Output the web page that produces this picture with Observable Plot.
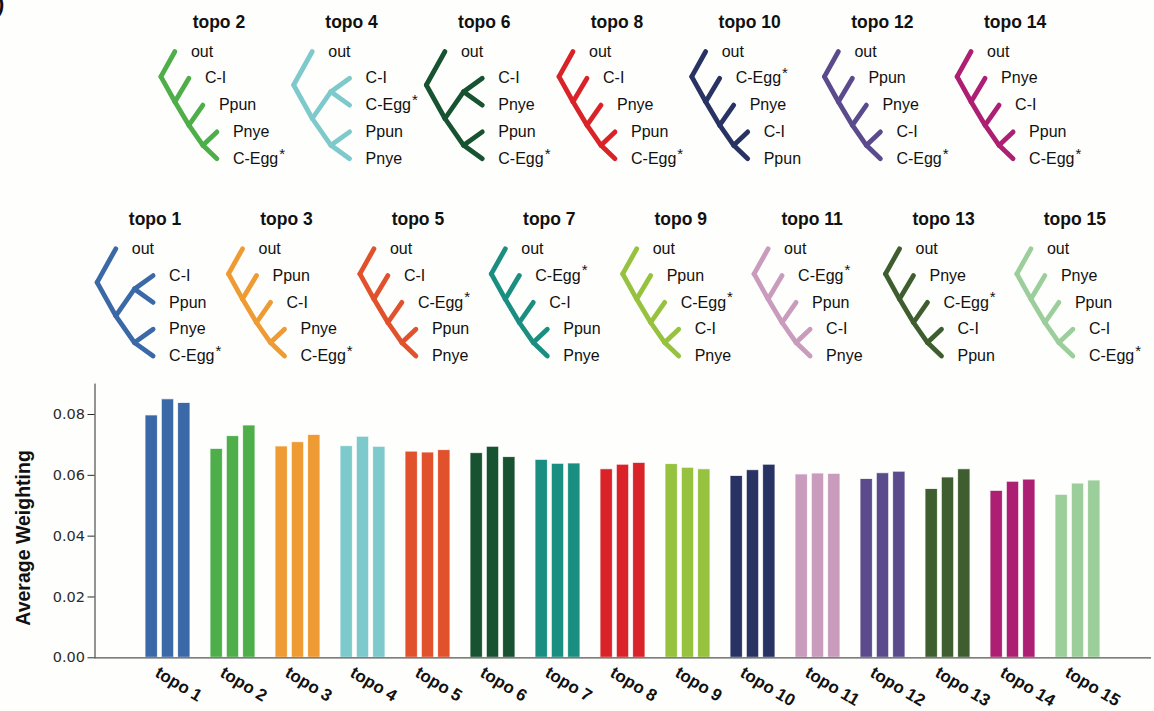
<!DOCTYPE html>
<html>
<head>
<meta charset="utf-8">
<script src="https://cdn.jsdelivr.net/npm/d3@7"></script>
<script src="https://cdn.jsdelivr.net/npm/@observablehq/plot@0.6"></script>
<style>
  body { margin: 0; background: #fefefc; }
  #fig { position: relative; width: 1154px; height: 711px; overflow: hidden; background: #fefefc; }
  #fig svg { position: absolute; left: 0; display: block; overflow: visible; }
  #tag { position: absolute; left: -3px; top: -9px; font: bold 22px "Liberation Sans", Arial, sans-serif; color: #111; }
</style>
</head>
<body>
<div id="fig"><span id="tag">)</span></div>
<script>
// ---- data -------------------------------------------------------------
const topos = d3.range(1, 16).map(i => `topo ${i}`);

// tree topologies, tips listed top to bottom
const topologies = [
  "(out,((C-I,Ppun),(Pnye,C-Egg*)))",
  "(out,(C-I,(Ppun,(Pnye,C-Egg*))))",
  "(out,(Ppun,(C-I,(Pnye,C-Egg*))))",
  "(out,((C-I,C-Egg*),(Ppun,Pnye)))",
  "(out,(C-I,(C-Egg*,(Ppun,Pnye))))",
  "(out,((C-I,Pnye),(Ppun,C-Egg*)))",
  "(out,(C-Egg*,(C-I,(Ppun,Pnye))))",
  "(out,(C-I,(Pnye,(Ppun,C-Egg*))))",
  "(out,(Ppun,(C-Egg*,(C-I,Pnye))))",
  "(out,(C-Egg*,(Pnye,(C-I,Ppun))))",
  "(out,(C-Egg*,(Ppun,(C-I,Pnye))))",
  "(out,(Ppun,(Pnye,(C-I,C-Egg*))))",
  "(out,(Pnye,(C-Egg*,(C-I,Ppun))))",
  "(out,(Pnye,(C-I,(Ppun,C-Egg*))))",
  "(out,(Pnye,(Ppun,(C-I,C-Egg*))))"
];

// average weighting of each topology in three runs
const weightRun1 = [0.0797, 0.0687, 0.0695, 0.0696, 0.0678, 0.0673, 0.0651, 0.0620, 0.0637, 0.0598, 0.0603, 0.0588, 0.0555, 0.0549, 0.0536];
const weightRun2 = [0.0850, 0.0729, 0.0709, 0.0727, 0.0675, 0.0694, 0.0638, 0.0635, 0.0625, 0.0617, 0.0606, 0.0607, 0.0593, 0.0579, 0.0573];
const weightRun3 = [0.0838, 0.0764, 0.0733, 0.0694, 0.0683, 0.0660, 0.0639, 0.0641, 0.0620, 0.0635, 0.0605, 0.0612, 0.0620, 0.0586, 0.0583];

const yTicks = [0, 0.02, 0.04, 0.06, 0.08];

// ---- styles -----------------------------------------------------------
const palette = [
  "#3b68a6", "#4dae4a", "#ee9b33", "#7ec9cb", "#e0512c",
  "#175231", "#1a8e80", "#d92329", "#96c23f", "#283364",
  "#c99bbc", "#5b4b8c", "#3f5e2f", "#ad1f73", "#9cce9b"
];
const sans = "Liberation Sans, Arial, Helvetica, sans-serif";
const fig = document.getElementById("fig");

// ---- tree helpers -----------------------------------------------------
function parseNewick(s) {
  let i = 0;
  function node() {
    if (s[i] === "(") {
      i++;
      const children = [node()];
      while (s[i] === ",") { i++; children.push(node()); }
      i++;
      return {children};
    }
    let name = "";
    while (i < s.length && !",()".includes(s[i])) name += s[i++];
    return {name};
  }
  return node();
}

// depth drives x, tip order drives y; an internal node sits at the mean of its children
function layout(root) {
  let rank = 0, maxDepth = 0;
  (function walk(n, d) {
    n.depth = d;
    maxDepth = Math.max(maxDepth, d);
    if (n.children) {
      n.children.forEach(c => walk(c, d + 1));
      n.rank = d3.mean(n.children, c => c.rank);
    } else n.rank = rank++;
  })(root, 0);
  return maxDepth;
}

const measure = document.createElement("canvas").getContext("2d");
function textWidth(t, font) { measure.font = font; return measure.measureText(t).width; }

const tipFont = 16, titleFont = 17.5, tipGap = 16, treeSpan = 56, tipStep = 26.8;
const starDx = tipGap + textWidth("C-Egg", `${tipFont}px Liberation Sans`) + 1;

function treeRow(ids, cfg) {
  const unit = treeSpan / cfg.step;
  const edges = [], tips = [], heads = [];
  ids.forEach((k, j) => {
    const topo = topos[k - 1];
    const root = parseNewick(topologies[k - 1]);
    const maxDepth = layout(root);
    const X = n => j + unit * n.depth / maxDepth;
    (function walk(n) {
      if (n.children) n.children.forEach(c => {
        edges.push({topo, x1: X(n), y1: n.rank, x2: X(c), y2: c.rank});
        walk(c);
      });
      else tips.push({topo, x: X(n), y: n.rank, label: n.name.replace("*", ""), star: n.name.endsWith("*")});
    })(root);
    heads.push({topo, x: j, y: 0});
  });
  const n = ids.length;
  const svg = Plot.plot({
    width: 1154, height: cfg.height, margin: 0,
    style: {background: "transparent", overflow: "visible", fontFamily: sans},
    x: {domain: [0, n - 1], range: [cfg.root0, cfg.root0 + (n - 1) * cfg.step], axis: null},
    y: {domain: [0, 4], range: [cfg.outY, cfg.outY + 4 * tipStep], axis: null},
    color: {domain: topos, range: palette},
    marks: [
      Plot.link(edges, {x1: "x1", y1: "y1", x2: "x2", y2: "y2", stroke: "topo",
        strokeWidth: 4.8, strokeLinecap: "round", strokeLinejoin: "round"}),
      Plot.text(tips, {x: "x", y: "y", text: "label", dx: tipGap, textAnchor: "start",
        fontSize: tipFont, fill: "#111", fontFamily: sans}),
      Plot.text(tips.filter(d => d.star), {x: "x", y: "y", text: () => "*", dx: starDx, dy: -5,
        textAnchor: "start", fontSize: 15, fill: "#111", fontFamily: sans}),
      Plot.text(heads, {x: "x", y: "y", text: "topo", dx: 58, dy: -24, lineAnchor: "bottom",
        fontSize: titleFont, fontWeight: "bold", fill: "#111", fontFamily: sans})
    ]
  });
  svg.style.top = cfg.top + "px";
  return svg;
}

fig.appendChild(treeRow([2, 4, 6, 8, 10, 12, 14],
  {top: 0, height: 195, root0: 160.4, step: 132.7, outY: 51}));
fig.appendChild(treeRow([1, 3, 5, 7, 9, 11, 13, 15],
  {top: 195, height: 175, root0: 96.6, step: 131.4, outY: 53.3}));

// ---- grouped bars -----------------------------------------------------
const runs = [weightRun1, weightRun2, weightRun3];
const bars = topos.flatMap((topo, i) => runs.map((w, r) => ({topo, run: r, value: w[i]})));
const barW = 12.7, barGap = 3.6; // three bars per group
const insetFor = r => ({insetLeft: r * (barW + barGap), insetRight: (2 - r) * (barW + barGap)});

const barPlot = Plot.plot({
  width: 1154, height: 341,
  marginLeft: 94.5, marginRight: 3, marginTop: 13.6, marginBottom: 53.7,
  style: {background: "transparent", overflow: "visible", fontFamily: "DejaVu Sans, sans-serif", fontSize: "14.5px", color: "#2b2b2b"},
  x: {domain: topos, paddingInner: 0.306, paddingOuter: 0.735, axis: null},
  y: {domain: [0, 0.09], ticks: yTicks, tickFormat: d3.format(".2f"), tickSize: 7, tickPadding: 3, label: null, line: true},
  color: {domain: topos, range: palette},
  marks: [
    ...[0, 1, 2].map(r => Plot.barY(bars.filter(d => d.run === r), {
      x: "topo", y: "value", fill: "topo", stroke: "#ffffff", strokeWidth: 1, strokeOpacity: 0.8, ...insetFor(r)
    })),
    Plot.ruleY([0], {stroke: "#555", strokeWidth: 1.2}),
    Plot.text(topos, {x: d => d, text: d => d, frameAnchor: "bottom", textAnchor: "start", rotate: 31,
      dx: -14, dy: 18, fontSize: 17, fontWeight: "bold", fill: "#111", fontFamily: sans}),
    Plot.text(["Average Weighting"], {text: d => d, frameAnchor: "left", textAnchor: "middle", rotate: -90,
      dx: -71, dy: 17, fontSize: 19.5, fontWeight: "bold", fill: "#111", fontFamily: sans})
  ]
});
barPlot.style.top = "370px";
fig.appendChild(barPlot);
</script>
</body>
</html>
